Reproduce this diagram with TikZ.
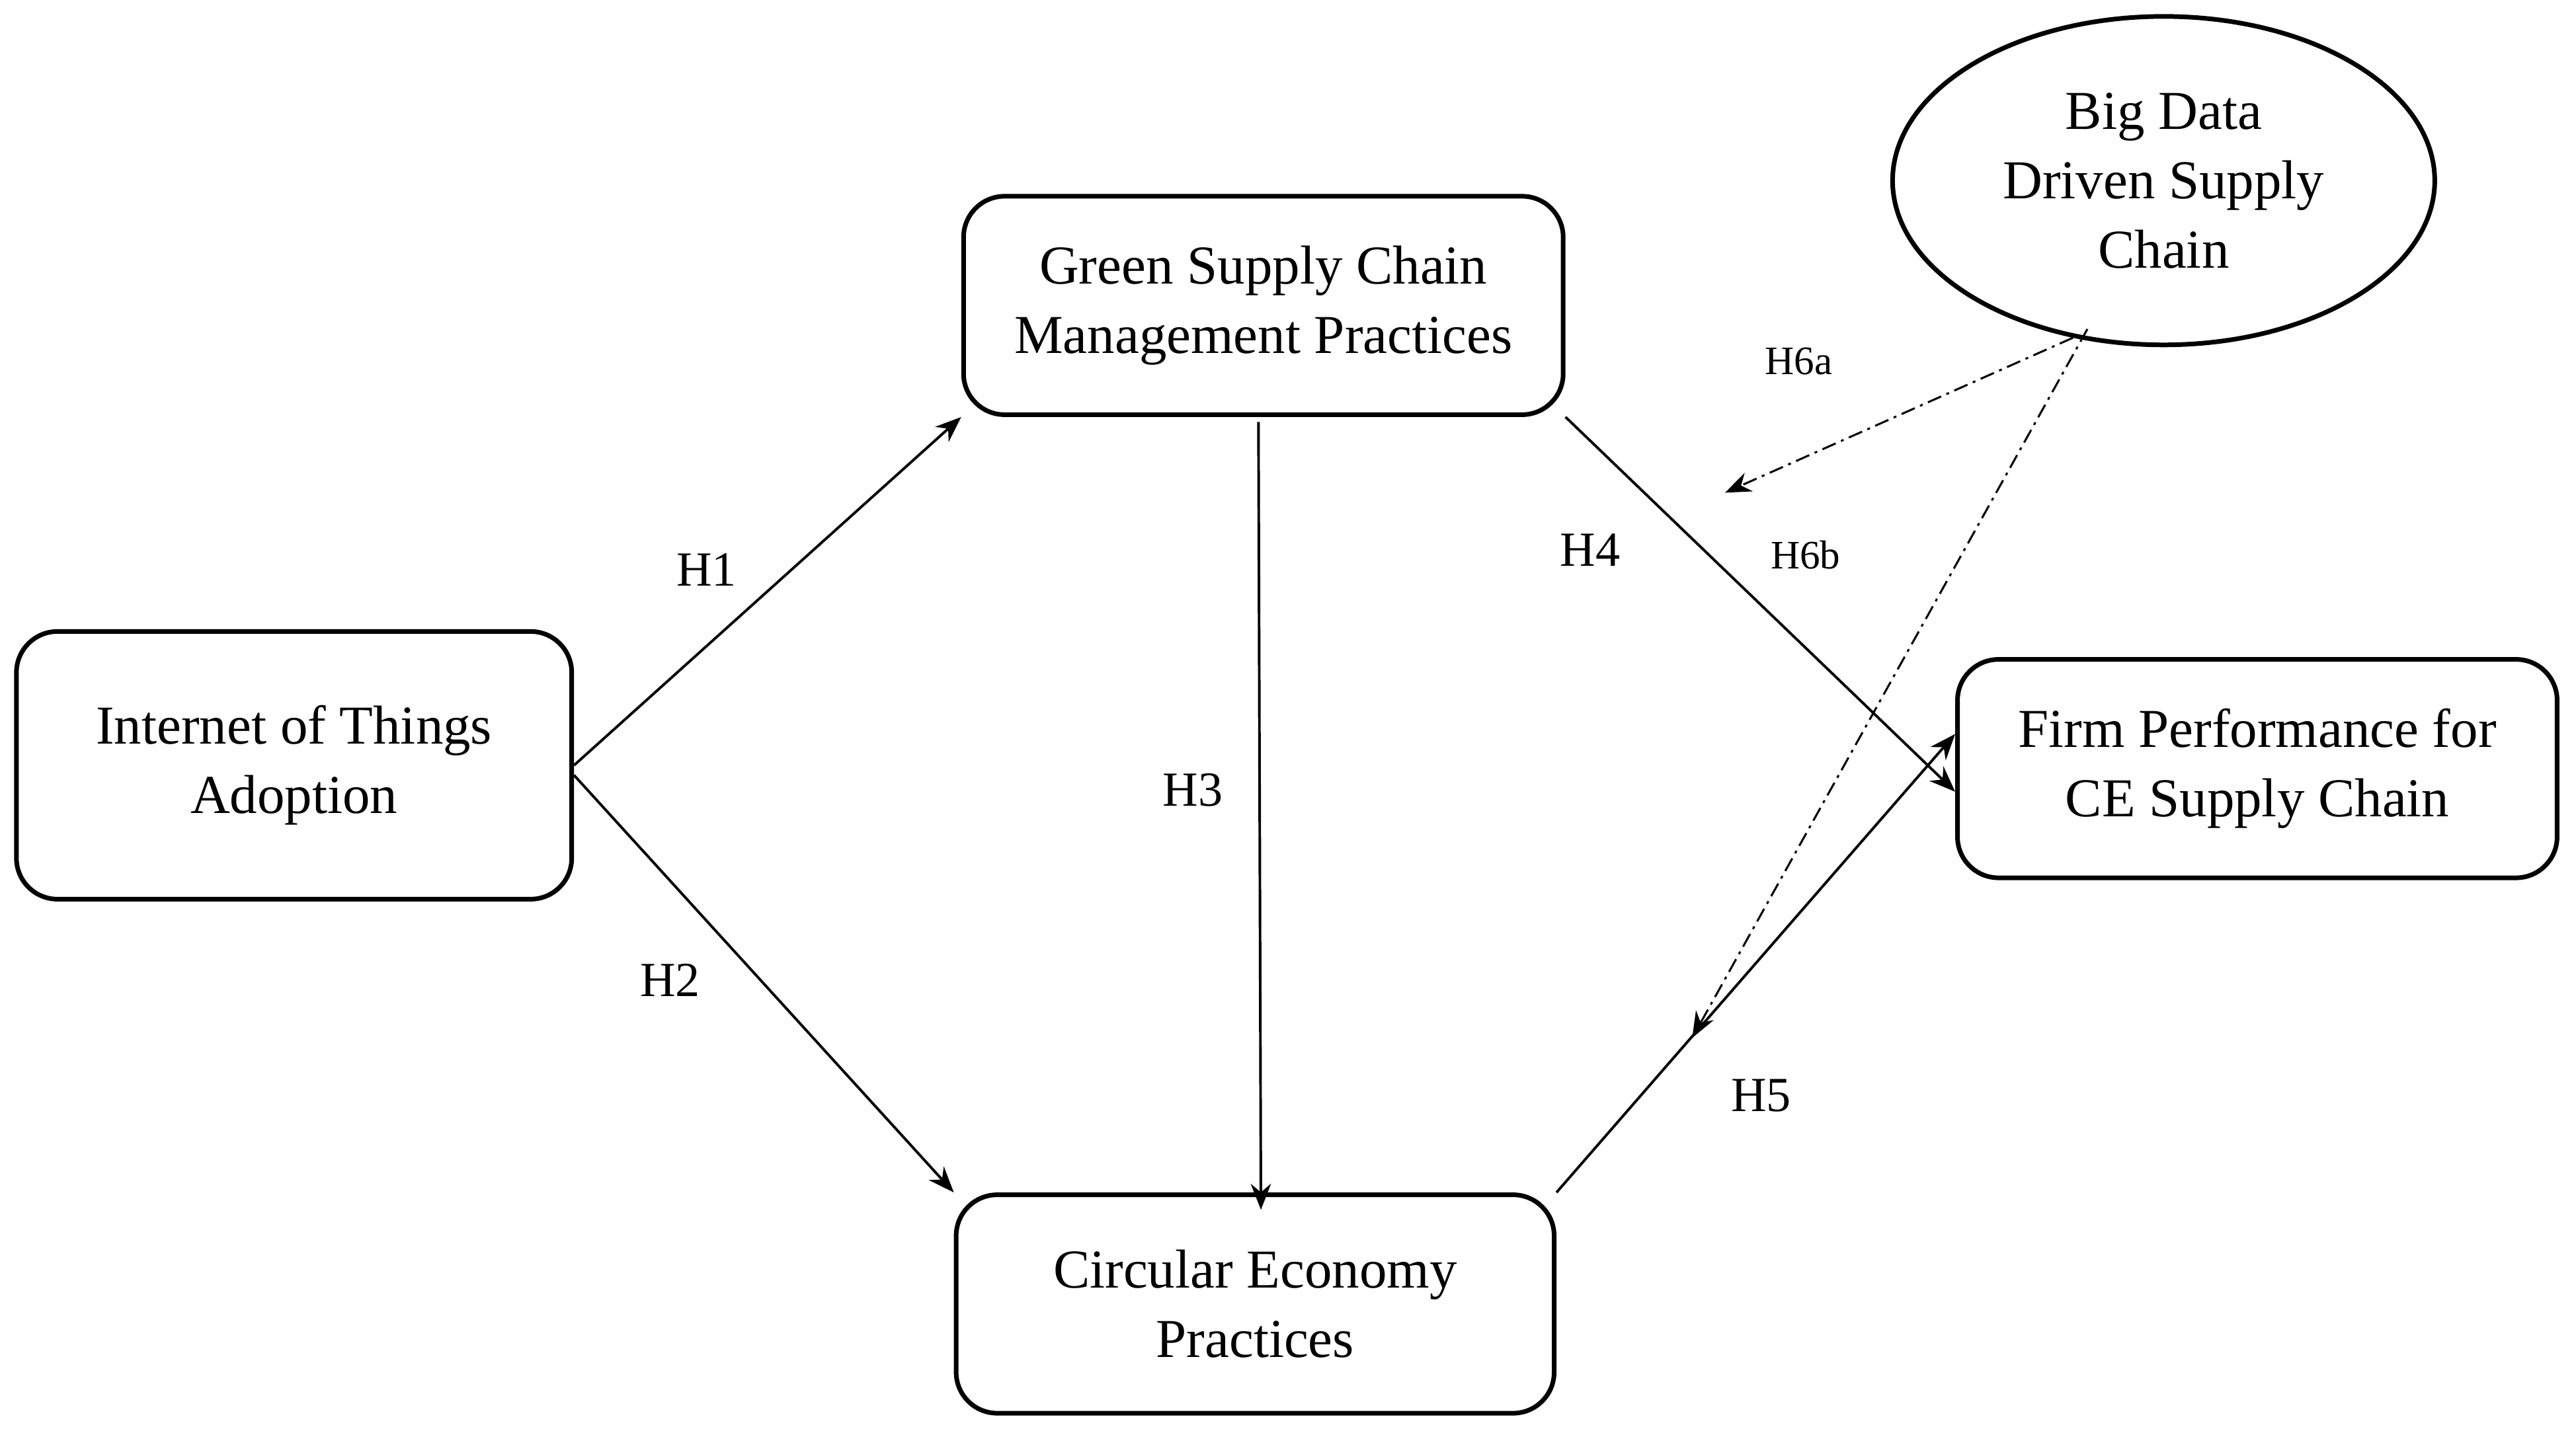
\documentclass[tikz,border=0pt]{standalone}
\usepackage{fontspec}
\setmainfont{Liberation Serif}
\usetikzlibrary{shapes.geometric,arrows.meta}
\begin{document}
\begin{tikzpicture}[x=0.02cm,y=-0.02cm,
  box/.style={draw,line width=1.6pt,rounded corners=0.5cm,align=center,font=\fontsize{19}{24}\selectfont,inner sep=0pt},
  arr/.style={-{Stealth[length=9pt,width=7pt]},line width=0.9pt},
  dd/.style={-{Stealth[length=9pt,width=7pt]},line width=0.7pt,dash pattern=on 5pt off 2pt on 1pt off 2pt},
  lab/.style={font=\fontsize{17}{20}\selectfont},
  slab/.style={font=\fontsize{14}{17}\selectfont}]
\useasboundingbox (0,0) rectangle (1568,871);
\fill[white] (0,0) rectangle (1568,871);
\node[box,minimum width=338*0.02cm,minimum height=163*0.02cm] (iot) at (179,466) {Internet of Things\\Adoption};
\node[box,minimum width=365*0.02cm,minimum height=133*0.02cm] (gscm) at (769,186) {Green Supply Chain\\Management Practices};
\node[box,minimum width=364*0.02cm,minimum height=133*0.02cm] (cep) at (764,794) {Circular Economy\\Practices};
\node[box,minimum width=365*0.02cm,minimum height=133*0.02cm] (fp) at (1374,468) {Firm Performance for\\CE Supply Chain};
\node[draw,line width=1.6pt,ellipse,minimum width=330*0.02cm,minimum height=200*0.02cm,align=center,font=\fontsize{19}{24}\selectfont,inner sep=0pt] (bd) at (1317,110) {Big Data\\Driven Supply\\Chain};
\coordinate (a6) at (1050,300);
\coordinate (b6) at (1030,632);
\draw[arr] (iot.east) -- (gscm.south west);
\draw[arr] (iot.east) ++(0,6) -- (cep.north west);
\draw[arr] (gscm.south) ++(-3,3) -- ([xshift=2,yshift=-6]cep.north);
\draw[arr] (gscm.south east) -- ([yshift=-8]fp.west);
\draw[arr] (cep.north east) -- ([yshift=12]fp.west);
\draw[dd] (bd.240) -- (a6);
\draw[dd] ([xshift=5,yshift=3]bd.240) -- (b6);
\node[lab] (h1) at (430,347) {H1};
\node[lab] (h2) at (408,597) {H2};
\node[lab] (h3) at (726,481) {H3};
\node[lab] (h4) at (968,335) {H4};
\node[lab] (h5) at (1072,667) {H5};
\node[slab] (h6a) at (1095,220) {H6a};
\node[slab] (h6b) at (1099,338) {H6b};
\end{tikzpicture}
\end{document}
